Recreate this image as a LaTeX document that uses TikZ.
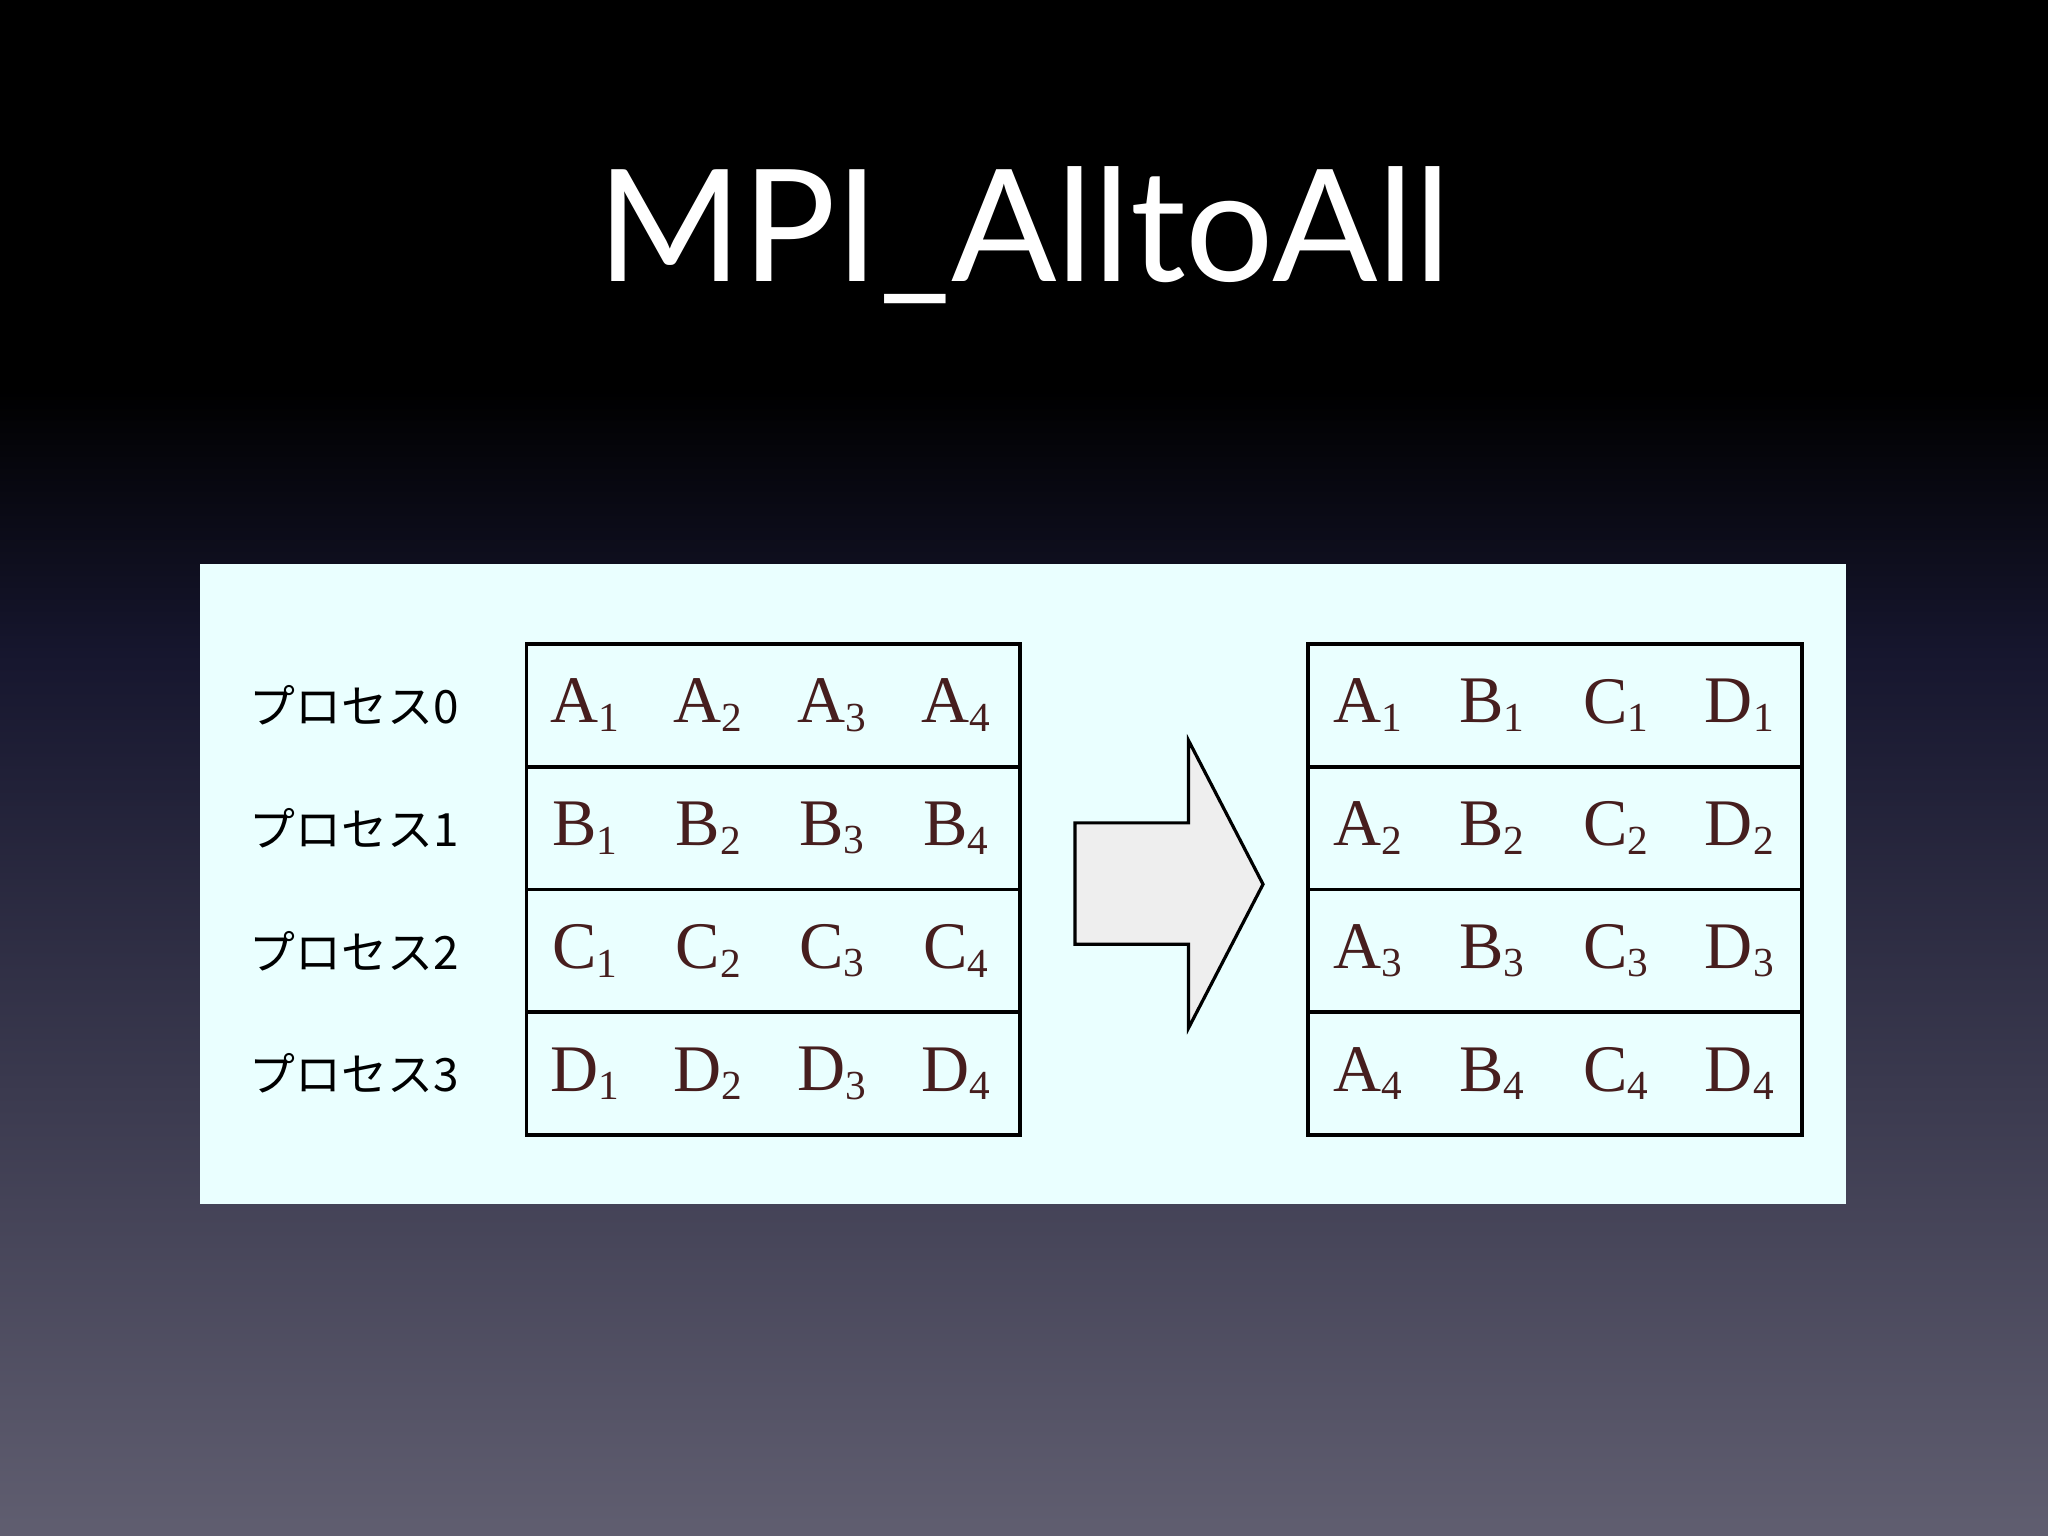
\documentclass[tikz,border=0pt]{standalone}
\usepackage{fontspec}
\setmainfont{Liberation Serif}
\newfontfamily\titlefont{Lato}
\newfontfamily\jpfont{Noto Sans CJK JP}
\definecolor{panel}{RGB}{234,255,255}
\definecolor{bgmid}{RGB}{22,22,46}
\definecolor{bgbot}{RGB}{96,94,112}
\definecolor{txt}{RGB}{70,30,30}
\tikzset{cellrow/.style={draw=black,line width=1.6pt,minimum width=7.56cm,minimum height=1.88cm,inner sep=0pt},
 lbl/.style={font=\jpfont\fontsize{20}{21}\selectfont,anchor=center},
 cell/.style={font=\fontsize{29}{30}\selectfont,text=txt}}
\newcommand{\sub}[2]{#1\textsubscript{\fontsize{18}{18}\selectfont#2}}
\begin{document}
\begin{tikzpicture}[x=0.02cm,y=-0.02cm]
\useasboundingbox (0,0) rectangle (1568,1176);
\fill[black] (0,0) rectangle (1568,300);
\shade[top color=black,bottom color=bgmid] (0,299) rectangle (1568,500);
\shade[top color=bgmid,bottom color=bgbot] (0,499) rectangle (1568,1176);
\node[text=white,font=\titlefont\fontsize{68}{70}\selectfont] (title) at (784,180) {MPI\_AlltoAll};
\fill[panel] (153,432) rectangle (1413,922);
\foreach \i/\y in {0/540,1/634,2/728,3/822}{
  \node[cellrow] (L\i) at (592,\y) {};
  \node[cellrow] (R\i) at (1190.5,\y) {};
  \node[lbl] (p\i) at (271,\y) {プロセス\i};
}
\foreach \r/\l [count=\i from 0] in {0/A,1/B,2/C,3/D}{
  \foreach \c [count=\j from 0] in {1,2,3,4}{
    \pgfmathsetmacro{\yy}{540+94*\i}
    \pgfmathsetmacro{\xx}{448+94.7*\j}
    \node[cell] (l\i\j) at (\xx,\yy) {\sub{\l}{\c}};
  }
}
\foreach \l [count=\j from 0] in {A,B,C,D}{
  \foreach \c [count=\i from 0] in {1,2,3,4}{
    \pgfmathsetmacro{\yy}{540+94*\i}
    \pgfmathsetmacro{\xx}{1048+94.7*\j}
    \node[cell] (r\i\j) at (\xx,\yy) {\sub{\l}{\c}};
  }
}
\draw[fill={rgb,255:red,238;green,238;blue,238},line width=1.4pt,line join=miter]
 (823,630) -- (910,630) -- (910,567) -- (967,677) -- (910,787) -- (910,723) -- (823,723) -- cycle;
\end{tikzpicture}
\end{document}
